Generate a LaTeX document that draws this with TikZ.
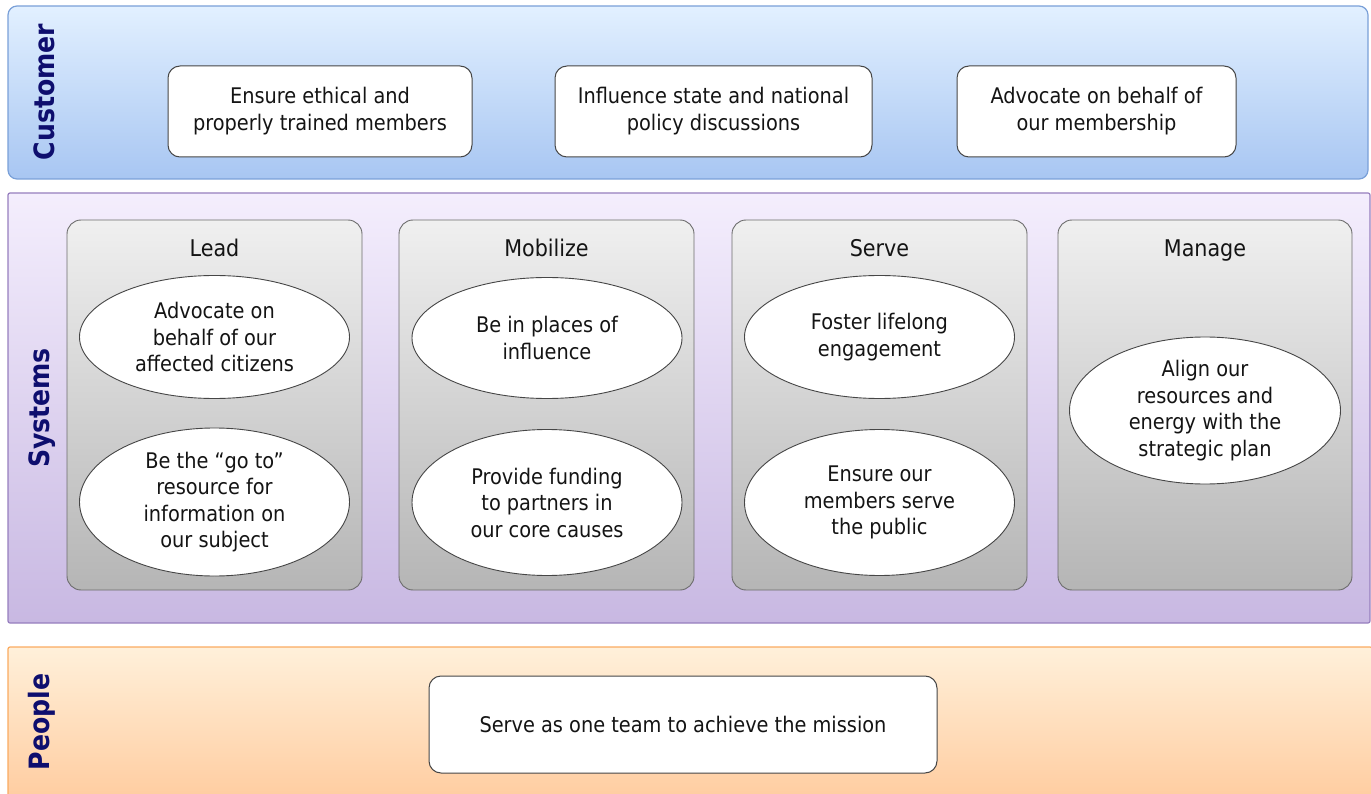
\documentclass[tikz,border=0pt]{standalone}
\usepackage{fontspec}
\setmainfont{DejaVu Sans Condensed}
\usetikzlibrary{shapes.geometric}

\definecolor{txt}{RGB}{20,20,20}
\definecolor{lbl}{RGB}{14,14,110}
\definecolor{boxline}{RGB}{70,70,70}

\tikzset{
  band/.style={line width=1.2pt},
  bandlabel/.style={rotate=90, font=\fontsize{28}{32}\selectfont\bfseries, text=lbl, anchor=center},
  goalbox/.style={draw=boxline, fill=white, rounded corners=12pt, line width=1pt,
    align=center, text=txt, inner sep=0pt, font=\fontsize{21.5}{27}\selectfont},
  column/.style={draw=gray!85!black, rounded corners=14pt, line width=0.9pt,
    top color=black!6, bottom color=black!29},
  coltitle/.style={text=txt, font=\fontsize{23}{28}\selectfont, anchor=base},
  aim/.style={ellipse, draw=boxline, fill=white, line width=0.9pt, inner sep=0pt,
    align=center, text=txt, font=\fontsize{21.5}{26.5}\selectfont}
}

\begin{document}
\begin{tikzpicture}[x=1pt, y=-1pt]
\clip (0,0) rectangle (1371,794);

% three horizontal bands
\draw[band, rounded corners=9pt, draw={rgb,255:red,122;green,160;blue,216},
  top color={rgb,255:red,226;green,240;blue,255}, bottom color={rgb,255:red,168;green,198;blue,242}]
  (8,6) rectangle (1368,179);
\draw[band, rounded corners=2pt, draw={rgb,255:red,150;green,126;blue,190},
  top color={rgb,255:red,244;green,238;blue,253}, bottom color={rgb,255:red,200;green,184;blue,226}]
  (8,193) rectangle (1370,623);
\draw[band, rounded corners=2pt, draw={rgb,255:red,250;green,170;blue,96},
  top color={rgb,255:red,255;green,240;blue,218}, bottom color={rgb,255:red,255;green,202;blue,156}]
  (8,647) rectangle (1372,810);

\node[bandlabel] (lcust) at (44,92) {Customer};
\node[bandlabel] (lsys) at (42,408) {Systems};
\node[bandlabel] (lpeople) at (42,722) {People};

% customer goals
\node[goalbox, minimum width=304pt, minimum height=91pt] (c1) at (320,111.5)
  {Ensure ethical and\\properly trained members};
\node[goalbox, minimum width=317pt, minimum height=91pt] (c2) at (713.5,111.5)
  {Influence state and national\\policy discussions};
\node[goalbox, minimum width=279pt, minimum height=91pt] (c3) at (1096.5,111.5)
  {Advocate on behalf of\\our membership};

% system columns
\draw[column] (67,220) rectangle (362,590);
\draw[column] (399,220) rectangle (694,590);
\draw[column] (732,220) rectangle (1027,590);
\draw[column] (1058,220) rectangle (1352,590);

\node[coltitle] (tlead) at (214.5,257) {Lead};
\node[coltitle] (tmob) at (546.5,257) {Mobilize};
\node[coltitle] (tserve) at (879.5,257) {Serve};
\node[coltitle] (tmanage) at (1205,257) {Manage};

\node[aim, minimum width=270pt, minimum height=123pt] (e1) at (214.5,337)
  {Advocate on\\behalf of our\\affected citizens};
\node[aim, minimum width=270pt, minimum height=148pt] (e2) at (214.5,502)
  {Be the “go to”\\resource for\\information on\\our subject};
\node[aim, minimum width=270pt, minimum height=121pt] (e3) at (547,338)
  {Be in places of\\influence};
\node[aim, minimum width=270pt, minimum height=146pt] (e4) at (547,502.5)
  {Provide funding\\to partners in\\our core causes};
\node[aim, minimum width=270pt, minimum height=123pt] (e5) at (879.5,337)
  {Foster lifelong\\engagement};
\node[aim, minimum width=270pt, minimum height=146pt] (e6) at (879.5,502.5)
  {Ensure our\\members serve\\the public};
\node[aim, minimum width=271pt, minimum height=147pt] (e7) at (1205,410.5)
  {Align our\\resources and\\energy with the\\strategic plan};

% people goal
\node[goalbox, minimum width=508pt, minimum height=97pt] (p1) at (683,724.5)
  {Serve as one team to achieve the mission};
\end{tikzpicture}
\end{document}
